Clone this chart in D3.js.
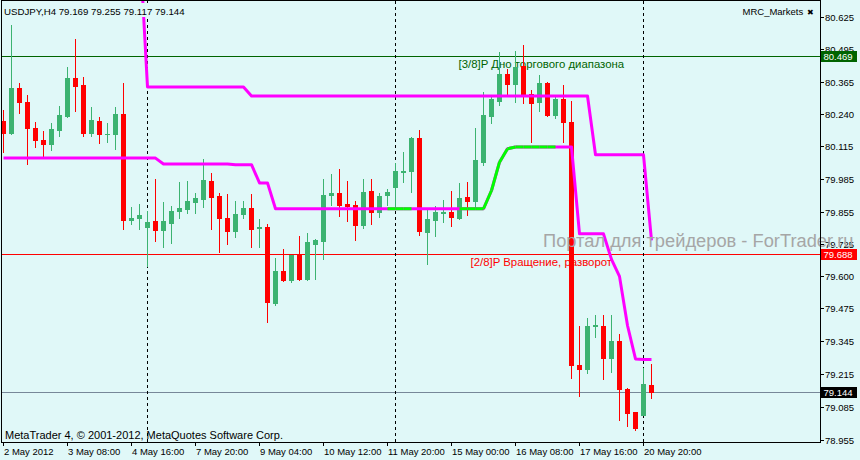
<!DOCTYPE html>
<html>
<head>
<meta charset="utf-8">
<script src="https://cdn.jsdelivr.net/npm/d3@7/dist/d3.min.js"></script>
<style>
  html, body { margin: 0; padding: 0; overflow: hidden; background: #E0F8F8; }
  svg { display: block; }
</style>
</head>
<body>
<script>
// ---------------- DATA ----------------
const symbolTitle = "USDJPY,H4  79.169 79.255 79.117 79.144";
const indicatorName = "MRC_Markets";
const copyrightText = "MetaTrader 4, \u00A9 2001-2012, MetaQuotes Software Corp.";
const watermarkText = "Портал для трейдеров - ForTrader.ru";

const open = [
  80.214, 80.164, 80.341, 80.288, 80.185, 80.138, 80.121, 80.176, 80.233, 80.384,
  80.353, 80.164, 80.214, 80.162, 80.160, 80.242, 79.821, 79.828, 79.793, 79.816,
  79.781, 79.809, 79.856, 79.864, 79.892, 79.904, 79.974, 79.918, 79.828, 79.777,
  79.845, 79.870, 79.791, 79.792, 79.493, 79.622, 79.584, 79.685, 79.588, 79.726,
  79.738, 79.920, 79.930, 79.883, 79.879, 79.801, 79.938, 79.852, 79.920, 79.951,
  80.010, 80.014, 80.147, 79.773, 79.820, 79.848, 79.855, 79.829, 79.912, 79.896,
  80.049, 80.234, 80.293, 80.397, 80.360, 80.428, 80.321, 80.289, 80.364, 80.238,
  80.301, 80.210, 79.251, 79.233, 79.405, 79.405, 79.276, 79.342, 79.154, 79.063,
  79.051, 79.169
];
const high = [
  80.257, 80.593, 80.364, 80.317, 80.210, 80.171, 80.206, 80.270, 80.425, 80.538,
  80.388, 80.266, 80.230, 80.206, 80.266, 80.364, 79.871, 79.883, 79.859, 79.982,
  79.891, 79.875, 79.970, 79.974, 79.930, 80.064, 80.009, 79.930, 79.926, 79.895,
  79.895, 79.926, 79.824, 79.804, 79.670, 79.709, 79.685, 79.760, 79.772, 79.745,
  79.985, 80.005, 80.021, 79.974, 79.895, 79.985, 79.985, 79.930, 79.942, 80.045,
  80.092, 80.151, 80.175, 79.867, 79.875, 79.899, 79.938, 79.966, 79.970, 80.183,
  80.325, 80.309, 80.484, 80.416, 80.487, 80.514, 80.333, 80.396, 80.366, 80.317,
  80.353, 80.293, 79.405, 79.433, 79.445, 79.445, 79.445, 79.370, 79.158, 79.063,
  79.237, 79.255
];
const low = [
  80.089, 80.160, 80.243, 80.043, 80.109, 80.067, 80.097, 80.155, 80.227, 80.251,
  80.155, 80.152, 80.125, 80.129, 80.101, 79.785, 79.805, 79.785, 79.639, 79.738,
  79.714, 79.730, 79.829, 79.848, 79.848, 79.872, 79.785, 79.694, 79.726, 79.754,
  79.828, 79.714, 79.714, 79.418, 79.485, 79.582, 79.576, 79.584, 79.584, 79.588,
  79.667, 79.880, 79.837, 79.817, 79.742, 79.789, 79.805, 79.833, 79.880, 79.867,
  79.970, 79.931, 79.762, 79.649, 79.760, 79.812, 79.797, 79.825, 79.841, 79.868,
  80.037, 80.206, 80.274, 80.317, 80.289, 80.285, 80.131, 80.250, 80.234, 80.226,
  80.131, 79.199, 79.126, 79.217, 79.359, 79.193, 79.221, 79.031, 79.008, 78.992,
  79.051, 79.117
];
const close = [
  80.164, 80.341, 80.287, 80.184, 80.137, 80.121, 80.179, 80.238, 80.384, 80.350,
  80.164, 80.218, 80.160, 80.163, 80.242, 79.821, 79.831, 79.843, 79.812, 79.781,
  79.816, 79.859, 79.867, 79.895, 79.910, 79.978, 79.912, 79.829, 79.777, 79.847,
  79.870, 79.785, 79.792, 79.497, 79.622, 79.584, 79.685, 79.588, 79.733, 79.741,
  79.922, 79.930, 79.880, 79.875, 79.801, 79.934, 79.852, 79.918, 79.934, 80.017,
  80.017, 80.147, 79.777, 79.824, 79.855, 79.855, 79.833, 79.910, 79.896, 80.057,
  80.238, 80.301, 80.397, 80.360, 80.425, 80.317, 80.285, 80.364, 80.238, 80.301,
  80.208, 79.248, 79.233, 79.405, 79.406, 79.276, 79.342, 79.154, 79.059, 79.000,
  79.173, 79.144
];

// MRC indicator: upper channel line (null where not drawn)
const upperLine = [
  null, null, null, null, null, null, null, null, null, null,
  null, null, null, null, null, null, null, 80.925, 80.347, 80.347,
  80.347, 80.347, 80.347, 80.347, 80.347, 80.347, 80.347, 80.347, 80.347, 80.347,
  80.347, 80.311, 80.311, 80.311, 80.311, 80.311, 80.311, 80.311, 80.311, 80.311,
  80.311, 80.311, 80.311, 80.311, 80.311, 80.311, 80.311, 80.311, 80.311, 80.311,
  80.311, 80.311, 80.311, 80.311, 80.311, 80.311, 80.311, 80.311, 80.311, 80.311,
  80.311, 80.311, 80.311, 80.311, 80.311, 80.311, 80.311, 80.311, 80.311, 80.311,
  80.311, 80.311, 80.311, 80.311, 80.079, 80.079, 80.079, 80.079, 80.079, 80.079,
  80.079, 79.741
];
// MRC indicator: lower channel line
const lowerLine = [
  80.066, 80.066, 80.066, 80.066, 80.066, 80.066, 80.066, 80.066, 80.066, 80.066,
  80.066, 80.066, 80.066, 80.066, 80.066, 80.066, 80.066, 80.066, 80.066, 80.066,
  80.043, 80.043, 80.043, 80.043, 80.043, 80.043, 80.043, 80.043, 80.043, 80.040,
  80.040, 80.040, 79.968, 79.968, 79.866, 79.866, 79.866, 79.866, 79.866, 79.866,
  79.866, 79.866, 79.866, 79.866, 79.866, 79.866, 79.866, 79.866, 79.866, 79.866,
  79.866, 79.866, 79.866, 79.866, 79.866, 79.866, 79.866, 79.866, 79.866, 79.866,
  79.866, 79.938, 80.050, 80.103, 80.110, 80.110, 80.110, 80.110, 80.110, 80.110,
  80.110, 80.110, 79.767, 79.767, 79.767, 79.767, 79.666, 79.599, 79.405, 79.273,
  79.271, 79.271
];
// 1 = segment starting at this bar is drawn in the "up" colour (lime)
const lowerUp = [
  0,0,0,0,0,0,0,0,0,0, 0,0,0,0,0,0,0,0,0,0,
  0,0,0,0,0,0,0,0,0,0, 0,0,0,0,0,0,0,0,0,0,
  0,0,0,0,0,0,0,0,1,1, 1,0,0,0,0,0,0,1,1,1,
  1,1,1,1,1,1,1,1,1,0, 0,0,0,0,0,0,0,0,0,0,
  0,0
];

const levelValues = [80.469, 79.688, 79.144];
const levelLabels = ["[3/8]P Дно торгового диапазона", "[2/8]P Вращение, разворот", null];
const levelLabelBars = [57, 58.5, null];

const priceTicks = [80.625, 80.495, 80.365, 80.240, 80.115, 79.985, 79.855,
                    79.725, 79.600, 79.475, 79.345, 79.215, 79.085, 78.955];
const timeTickBars = [0, 8, 16, 24, 32, 40, 48, 56, 64, 72, 80];
const timeTickLabels = ["2 May 2012", "3 May 08:00", "4 May 16:00", "7 May 20:00",
  "9 May 04:00", "10 May 12:00", "11 May 20:00", "15 May 00:00", "16 May 08:00",
  "17 May 16:00", "20 May 20:00"];
const separatorBars = [18, 49, 80];

// ---------------- STYLE ----------------
const BG = "#E0F8F8";
const BULL = "#3CB371", BEAR = "#FF0000";
const MAGENTA = "#FF00FF", LIME = "#00FF00";
const levelColors = ["#006400", "#FF0000", "#778899"];
const levelBoxColors = ["#006400", "#FF0000", "#000000"];
const levelTextColors = ["#006400", "#FF0000", null];
const FONT = "'Liberation Sans', Arial, sans-serif";

const W = 860, H = 460;
const plot = { left: 1.5, top: 0.5, right: 820.5, bottom: 442.5 };

const svg = d3.select("body").append("svg").attr("width", W).attr("height", H)
  .style("font-family", FONT);
svg.append("rect").attr("width", W).attr("height", H).attr("fill", BG);

const n = open.length;
const x = d3.scaleLinear().domain([0, 102]).range([3.5, 819.5]);
const y = d3.scaleLinear().domain([78.955, 80.625]).range([439.5, 16.5]);

// clip
svg.append("defs").append("clipPath").attr("id", "clip")
  .append("rect").attr("x", 2).attr("y", 1).attr("width", 818).attr("height", 441);

// ---------- right axis ticks + labels ----------
const ax = svg.append("g");
priceTicks.forEach(v => {
  const yy = Math.round(y(v)) + 0.5;
  ax.append("line").attr("x1", 820.5).attr("x2", 823.5).attr("y1", yy).attr("y2", yy)
    .attr("stroke", "#000").attr("shape-rendering", "crispEdges");
  ax.append("text").attr("x", 825).attr("y", yy + 3.5).attr("font-size", 9.5)
    .attr("fill", "#000").text(v.toFixed(3));
});

// ---------- bottom axis ticks + labels ----------
timeTickBars.forEach((b, k) => {
  const xx = x(b);
  ax.append("line").attr("x1", xx).attr("x2", xx).attr("y1", 442.5).attr("y2", 446)
    .attr("stroke", "#000").attr("shape-rendering", "crispEdges");
  ax.append("text").attr("x", xx + 0.5).attr("y", 454.5).attr("font-size", 9.5)
    .attr("fill", "#000").text(timeTickLabels[k]);
});

// ---------- chart area ----------
const g = svg.append("g").attr("clip-path", "url(#clip)");

// horizontal levels
levelValues.forEach((v, k) => {
  const yy = Math.round(y(v)) + 0.5;
  g.append("line").attr("x1", 2).attr("x2", 820).attr("y1", yy).attr("y2", yy)
    .attr("stroke", levelColors[k]).attr("stroke-width", 1).attr("shape-rendering", "crispEdges");
});

// watermark (behind chart elements)
svg.append("text").attr("x", 543).attr("y", 246.5).attr("font-size", 18.3)
  .attr("fill", "#A6A6A6").text(watermarkText);

// level captions
levelValues.forEach((v, k) => {
  if (!levelLabels[k]) return;
  g.append("text").attr("x", x(levelLabelBars[k]) - 1).attr("y", Math.round(y(v)) + 12)
    .attr("font-size", 11.4).attr("fill", levelTextColors[k]).text(levelLabels[k]);
});

// period separators
separatorBars.forEach(b => {
  g.append("line").attr("x1", x(b)).attr("x2", x(b)).attr("y1", 1).attr("y2", 442)
    .attr("stroke", "#000").attr("stroke-dasharray", "3,3").attr("shape-rendering", "crispEdges");
});

// candles
const idx = d3.range(n);
const cg = g.append("g").attr("shape-rendering", "crispEdges");
idx.forEach(i => {
  const up = close[i] >= open[i];
  const col = up ? BULL : BEAR;
  const xc = x(i);
  cg.append("line").attr("x1", xc).attr("x2", xc)
    .attr("y1", Math.round(y(high[i]))).attr("y2", Math.round(y(low[i])) + 1)
    .attr("stroke", col).attr("stroke-width", 1);
  const top = Math.round(y(Math.max(open[i], close[i])));
  const bot = Math.round(y(Math.min(open[i], close[i])));
  cg.append("rect").attr("x", xc - 2.5).attr("width", 5)
    .attr("y", top).attr("height", Math.max(1, bot - top + 1)).attr("fill", col);
});

// indicator lines
const lineGen = d3.line().defined(d => d.v != null).x(d => x(d.i)).y(d => y(d.v));
g.append("path").datum(idx.map(i => ({ i, v: upperLine[i] })))
  .attr("d", lineGen).attr("fill", "none").attr("stroke", MAGENTA).attr("stroke-width", 3)
  .attr("stroke-linejoin", "round");
g.append("path").datum(idx.map(i => ({ i, v: lowerLine[i] })))
  .attr("d", lineGen).attr("fill", "none").attr("stroke", MAGENTA).attr("stroke-width", 3)
  .attr("stroke-linejoin", "round");
idx.slice(0, n - 1).forEach(i => {
  if (!lowerUp[i]) return;
  g.append("path").datum([{ i, v: lowerLine[i] }, { i: i + 1, v: lowerLine[i + 1] }])
    .attr("d", lineGen).attr("fill", "none").attr("stroke", LIME).attr("stroke-width", 3)
    .attr("stroke-linecap", "butt");
});

// header text with its own background strip
const title = svg.append("text").attr("x", 4).attr("y", 14.5).attr("font-size", 9.7)
  .attr("fill", "#000").text(symbolTitle);
const tb = title.node().getBBox();
svg.insert("rect", () => title.node()).attr("x", 2).attr("y", 3)
  .attr("width", tb.x + tb.width + 2 - 2).attr("height", 14).attr("fill", BG);

svg.append("text").attr("x", 742.5).attr("y", 14.5).attr("font-size", 9.5).attr("fill", "#000")
  .text(indicatorName);
svg.append("text").attr("x", 807).attr("y", 14.5).attr("font-size", 8).attr("fill", "#000")
  .attr("font-family", "'DejaVu Sans', sans-serif").text("\u2716");
svg.append("text").attr("x", 5).attr("y", 438.5).attr("font-size", 11).attr("fill", "#000")
  .text(copyrightText);

// price boxes for levels
levelValues.forEach((v, k) => {
  const yy = Math.round(y(v));
  svg.append("rect").attr("x", 821).attr("y", yy - 5).attr("width", 36).attr("height", 11)
    .attr("fill", levelBoxColors[k]);
  svg.append("text").attr("x", 823.5).attr("y", yy + 4).attr("font-size", 9.5)
    .attr("fill", "#fff").text(v.toFixed(3));
});

// frame
svg.append("path")
  .attr("d", `M${plot.left},${plot.top}H${plot.right}V${plot.bottom}H${plot.left}Z`)
  .attr("fill", "none").attr("stroke", "#000").attr("shape-rendering", "crispEdges");
</script>
</body>
</html>
